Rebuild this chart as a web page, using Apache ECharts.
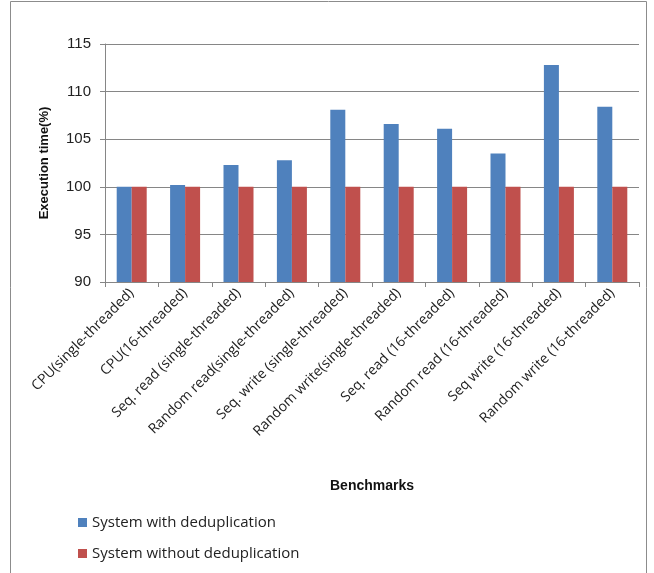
<!DOCTYPE html>
<html>
<head>
<meta charset="utf-8">
<script src="https://cdn.jsdelivr.net/npm/echarts@6/dist/echarts.min.js"></script>
<style>
  html, body { margin: 0; padding: 0; background: #fff; }
  #chart { width: 654px; height: 573px; }
</style>
</head>
<body>
<div id="chart"></div>
<script>
// benchmark names
const benchmarks = [
    'CPU(single-threaded)', 'CPU(16-threaded)', 'Seq. read (single-threaded)',
    'Random read(single-threaded)', 'Seq. write (single-threaded)', 'Random write(single-threaded)',
    'Seq. read (16-threaded)', 'Random read (16-threaded)', 'Seq write (16-threaded)',
    'Random write (16-threaded)'
];
const withDedup = [100, 100.2, 102.3, 102.8, 108.1, 106.6, 106.1, 103.5, 112.8, 108.4];
const withoutDedup = [100, 100, 100, 100, 100, 100, 100, 100, 100, 100];
const seriesNames = ['System with deduplication', 'System without deduplication'];

const font = 'Liberation Sans, Arial, sans-serif';
const labelFont = 'Open Sans, sans-serif';
let chart = echarts.init(document.getElementById('chart'));

chart.setOption({
    animation: false,
    textStyle: { fontFamily: font },
    graphic: [{
        type: 'rect',
        shape: { x: 10.5, y: 1.5, width: 636, height: 580 },
        style: { fill: 'none', stroke: '#8c8c8c', lineWidth: 1 }
    }],
    grid: { left: 105, right: 15, top: 44, bottom: 291 },
    legend: {
        orient: 'vertical',
        left: 73,
        top: 510,
        itemWidth: 9,
        itemHeight: 9,
        itemGap: 16,
        icon: 'rect',
        textStyle: { fontSize: 15, color: '#222', fontFamily: labelFont },
        data: seriesNames
    },
    xAxis: {
        type: 'category',
        data: benchmarks,
        name: 'Benchmarks',
        nameLocation: 'middle',
        nameGap: 197,
        nameTextStyle: { fontWeight: 'bold', fontSize: 14, color: '#111' },
        axisLine: { lineStyle: { color: '#868686' } },
        axisTick: { show: true, length: 5, lineStyle: { color: '#868686' } },
        axisLabel: { rotate: 45, fontSize: 14, color: '#222', margin: 9, interval: 0, fontFamily: labelFont }
    },
    yAxis: {
        type: 'value',
        min: 90,
        max: 115,
        interval: 5,
        name: 'Execution time(%)',
        nameLocation: 'middle',
        nameGap: 54,
        nameTextStyle: { fontWeight: 'bold', fontSize: 13, color: '#111' },
        axisLine: { show: true, lineStyle: { color: '#868686' } },
        axisTick: { show: true, length: 5, lineStyle: { color: '#868686' } },
        axisLabel: { fontSize: 15, color: '#222', margin: 14 },
        splitLine: { lineStyle: { color: '#868686' } }
    },
    series: [
        {
            name: seriesNames[0],
            type: 'bar',
            data: withDedup,
            barWidth: 15,
            barGap: '0%',
            itemStyle: { color: '#4f81bd' }
        },
        {
            name: seriesNames[1],
            type: 'bar',
            data: withoutDedup,
            barWidth: 15,
            itemStyle: { color: '#c0504d' }
        }
    ]
});
</script>
</body>
</html>
